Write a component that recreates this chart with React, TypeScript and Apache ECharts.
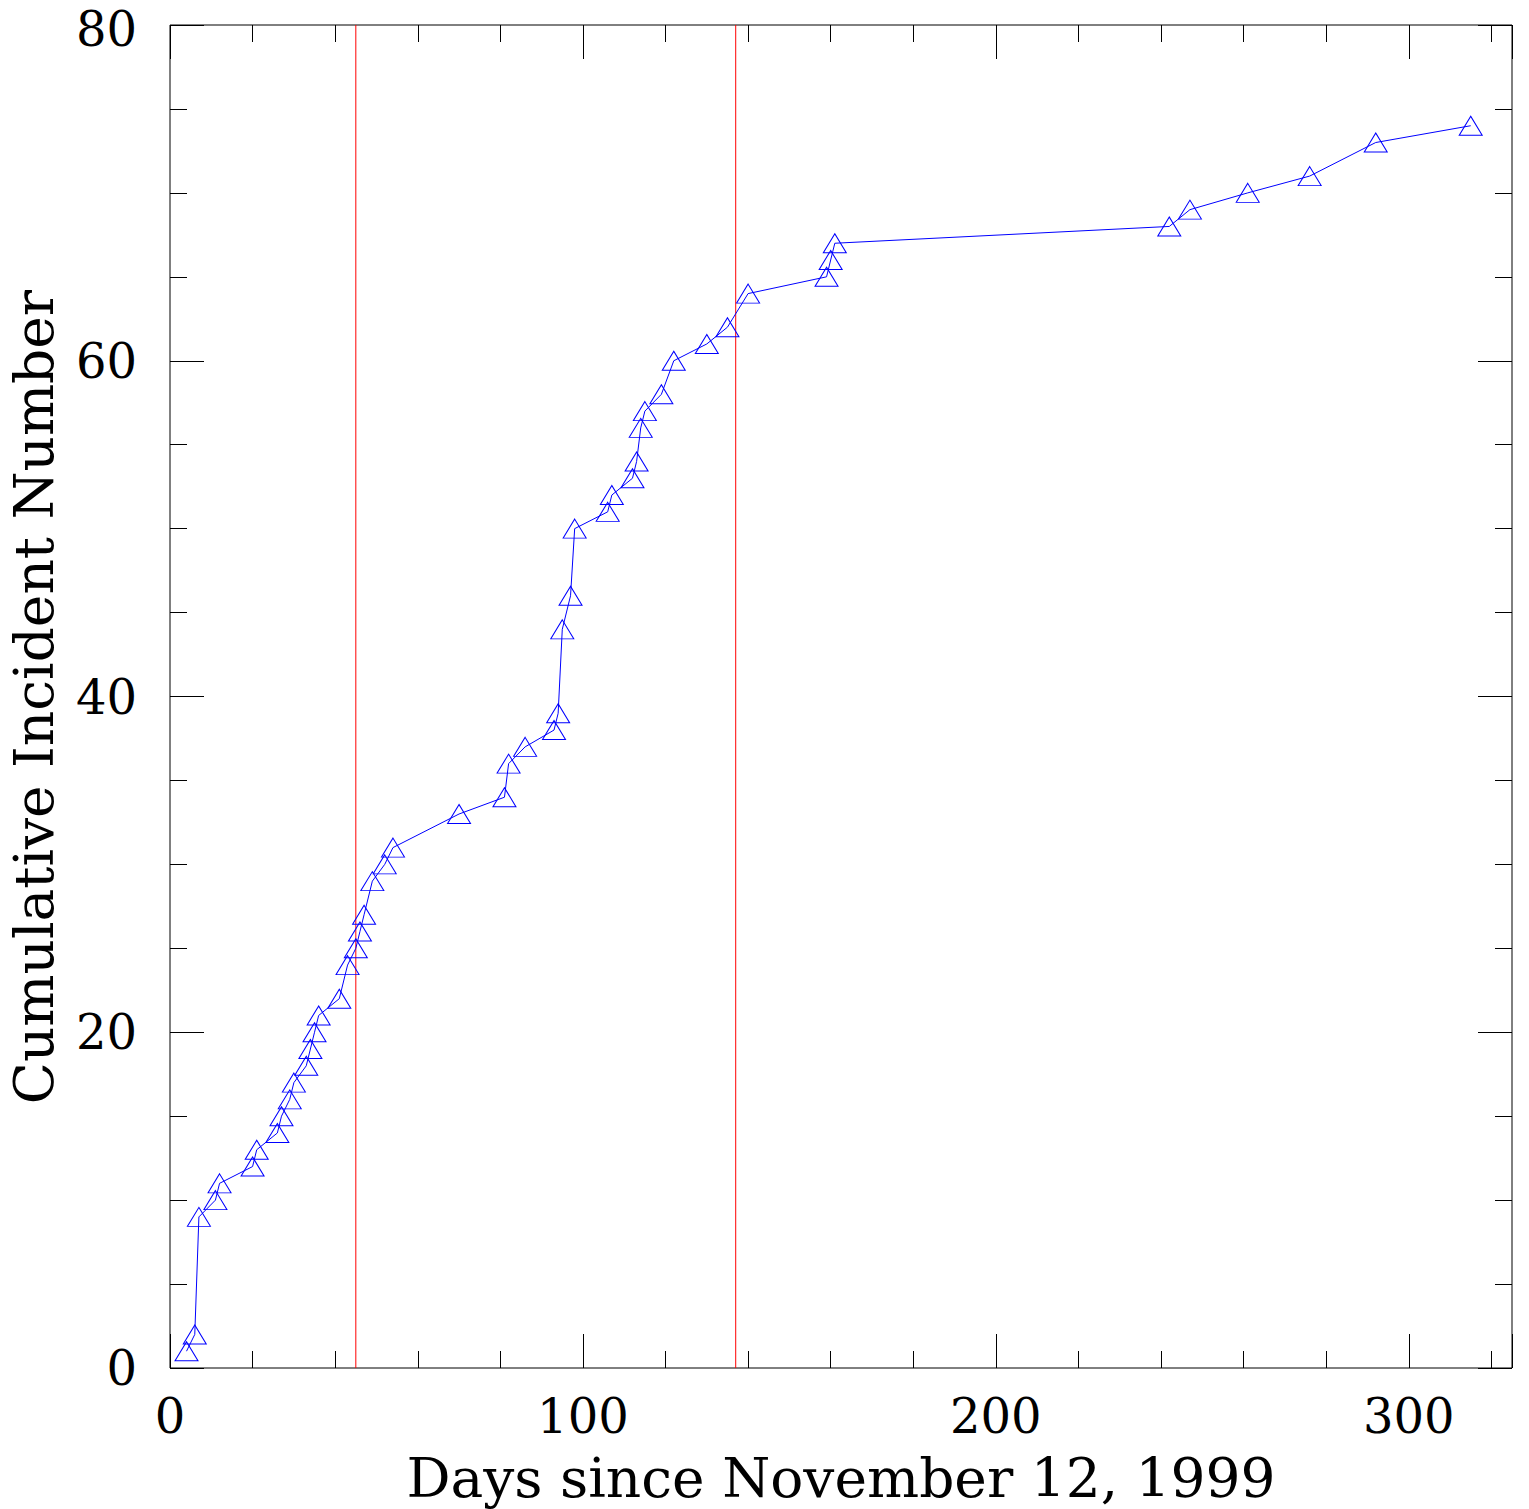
import React, { useEffect, useRef } from "react";
import * as echarts from "echarts";

const days = [4, 6, 7, 11, 12, 20, 21, 26, 27, 29, 30, 33, 34, 35, 36, 41, 43, 45, 46, 47, 49, 52, 54, 70, 81, 82, 86, 93, 94, 95, 97, 98, 106, 107, 112, 113, 114, 115, 119, 122, 130, 135, 140, 159, 160, 161, 242, 247, 261, 276, 292, 315];
const cumulative = [1, 2, 9, 10, 11, 12, 13, 14, 15, 16, 17, 18, 19, 20, 21, 22, 24, 25, 26, 27, 29, 30, 31, 33, 34, 36, 37, 38, 39, 44, 46, 50, 51, 52, 53, 54, 56, 57, 58, 60, 61, 62, 64, 65, 66, 67, 68, 69, 70, 71, 73, 74];
const markerDays = [45, 137];
const xTitle = "Days since November 12, 1999";
const yTitle = "Cumulative Incident Number";

const FONT = "'DejaVu Serif', 'Liberation Serif', serif";

function xAx(position: string, interval: number, len: number, labels: boolean) {
  return {
    type: "value",
    position,
    min: 0,
    max: 325,
    interval,
    axisLine: { show: false, onZero: false },
    axisTick: { show: true, inside: true, length: len, lineStyle: { color: "#000", width: 1 } },
    axisLabel: labels
      ? {
          show: true,
          margin: 24,
          fontSize: 48,
          fontFamily: FONT,
          color: "#000",
          formatter: (v: number) => (v % 100 === 0 ? String(v) : ""),
        }
      : { show: false },
    splitLine: { show: false },
  };
}

function yAx(position: string, interval: number, len: number, labels: boolean) {
  return {
    type: "value",
    position,
    min: 0,
    max: 80,
    interval,
    axisLine: { show: false, onZero: false },
    axisTick: { show: true, inside: true, length: len, lineStyle: { color: "#000", width: 1 } },
    axisLabel: labels
      ? {
          show: true,
          margin: 33,
          fontSize: 48,
          lineHeight: 40,
          fontFamily: FONT,
          color: "#000",
          formatter: (v: number) =>
            v % 20 !== 0 ? "" : v === 80 ? `{top|${v}}` : String(v),
          rich: {
            top: {
              fontSize: 48,
              lineHeight: 40,
              fontFamily: FONT,
              color: "#000",
              padding: [8, 0, 0, 0],
            },
          },
        }
      : { show: false },
    splitLine: { show: false },
  };
}

export default function App() {
  const ref = useRef<HTMLDivElement>(null);
  useEffect(() => {
    if (!ref.current) return;
    const chart = echarts.init(ref.current, null, { renderer: "svg" });
    const data = days.map((d, i) => [d, cumulative[i]]);
    const redSeries = markerDays.map((d) => ({
      type: "line",
      xAxisIndex: 0,
      yAxisIndex: 0,
      data: [
        [d, 0],
        [d, 80],
      ],
      symbol: "none",
      silent: true,
      lineStyle: { color: "#ff0000", width: 1, type: "solid" },
      itemStyle: { color: "#ff0000" },
      z: 2,
    }));
    chart.setOption({
      animation: false,
      backgroundColor: "#fff",
      grid: {
        left: 170,
        top: 25,
        right: 17,
        bottom: 141,
        containLabel: false,
        outerBoundsMode: "none",
        show: true,
        borderColor: "#000",
        borderWidth: 1,
        backgroundColor: "transparent",
      },
      xAxis: [
        xAx("bottom", 20, 17, true),
        xAx("bottom", 100, 34, false),
        xAx("top", 20, 17, false),
        xAx("top", 100, 34, false),
      ],
      yAxis: [
        yAx("left", 5, 17, true),
        yAx("left", 20, 34, false),
        yAx("right", 5, 17, false),
        yAx("right", 20, 34, false),
      ],
      series: [
        ...redSeries,
        {
          type: "line",
          xAxisIndex: 0,
          yAxisIndex: 0,
          data,
          symbol: "triangle",
          symbolSize: [23, 19],
          showAllSymbol: true,
          lineStyle: { color: "#0000ff", width: 1 },
          itemStyle: { color: "transparent", borderColor: "#0000ff", borderWidth: 1 },
          z: 3,
        },
      ],
      graphic: [
        {
          type: "text",
          x: 841,
          y: 1478,
          style: {
            text: xTitle,
            font: `55px ${FONT}`,
            fill: "#000",
            textAlign: "center",
            textVerticalAlign: "middle",
          },
        },
        {
          type: "text",
          x: 34,
          y: 697,
          rotation: Math.PI / 2,
          style: {
            text: yTitle,
            font: `55px ${FONT}`,
            fill: "#000",
            textAlign: "center",
            textVerticalAlign: "middle",
          },
        },
      ],
    });
    return () => chart.dispose();
  }, []);
  return (
    <div
      ref={ref}
      style={{ position: "fixed", left: 0, top: 0, width: 1529, height: 1509, background: "#fff" }}
    />
  );
}
